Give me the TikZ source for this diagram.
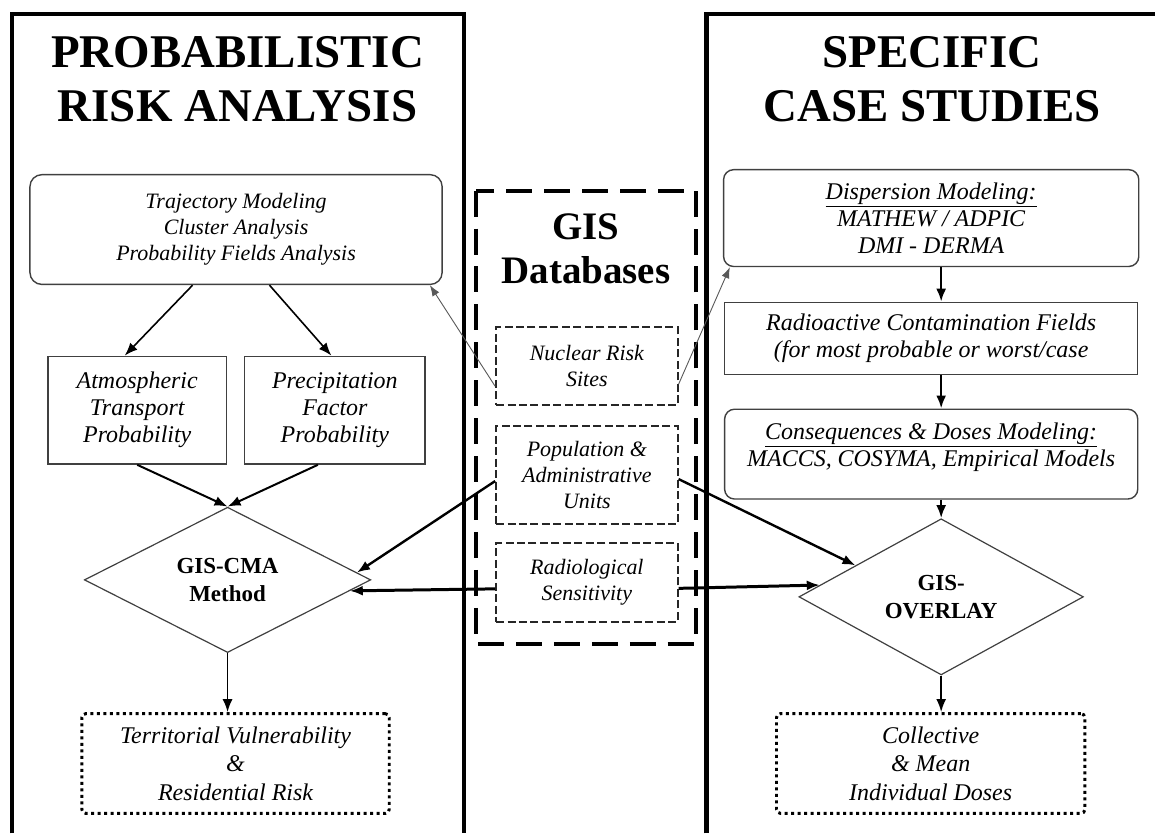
\documentclass[tikz,border=0pt]{standalone}
\usepackage{fontspec}
\setmainfont{Liberation Serif}
\usetikzlibrary{shapes.geometric,arrows.meta,calc}

\tikzset{
  frame/.style={line width=4.5pt},
  heading/.style={font=\fontsize{47}{54}\selectfont\bfseries, align=center},
  box/.style={draw=black!75, line width=1.4pt, align=center, inner sep=0pt,
    font=\fontsize{24}{27}\selectfont\itshape},
  rbox/.style={box, rounded corners=10pt},
  dbitem/.style={box, draw=black!85, line width=1.8pt, dash pattern=on 8pt off 3.5pt,
    font=\fontsize{22}{26}\selectfont\itshape, minimum width=182pt},
  result/.style={box, draw=black, line width=3pt, dash pattern=on 3pt off 3.5pt,
    rounded corners=4pt, font=\fontsize{24}{28.5}\selectfont\itshape},
  decision/.style={diamond, draw=black!75, line width=1.2pt, inner sep=0pt,
    align=center, font=\fontsize{23}{28}\selectfont\bfseries},
  link/.style={-{Latex[length=13pt,width=10pt]}, line width=1.6pt},
  lightlink/.style={-{Latex[length=11pt,width=8pt]}, line width=0.9pt, draw=black!65},
}

\begin{document}
\begin{tikzpicture}[x=1pt,y=-1pt]
  \path[fill=white] (0,0) rectangle (1157,835);

  % panels and headings
  \draw[frame] (12,835) -- (12,14) -- (465,14) -- (465,835);
  \draw[frame] (708,835) -- (708,14) -- (1157,14);
  \node[heading] (prahead) at (238,79) {PROBABILISTIC\\RISK ANALYSIS};
  \node[heading] (cshead) at (934,79) {SPECIFIC\\CASE STUDIES};

  % probabilistic side
  \node[rbox, rounded corners=12pt, minimum width=413pt, minimum height=110pt,
    font=\fontsize{22}{26}\selectfont\itshape] (traj) at (236.5,230)
    {Trajectory Modeling\\Cluster Analysis\\Probability Fields Analysis};
  \node[box, minimum width=179pt, minimum height=108pt] (atm) at (137.5,411)
    {Atmospheric\\Transport\\Probability};
  \node[box, minimum width=181pt, minimum height=108pt] (prec) at (335.5,411)
    {Precipitation\\Factor\\Probability};
  \node[decision, minimum width=287pt, minimum height=126pt] (cma) at (228,581)
    {GIS-CMA\\Method};
  \node[result, minimum width=308pt, minimum height=100pt] (terr) at (236,765)
    {Territorial Vulnerability\\\&\\Residential Risk};

  % databases in the middle
  \draw[line width=4pt, dash pattern=on 26pt off 12pt] (477,191) rectangle (697,645);
  \node[font=\fontsize{39}{44}\selectfont\bfseries, align=center] (gistitle)
    at (587,249) {GIS\\Databases};
  \node[dbitem, minimum height=78pt] (nuc) at (588,367) {Nuclear Risk\\Sites};
  \node[dbitem, minimum height=98pt] (pop) at (588,476)
    {Population \&\\Administrative\\Units};
  \node[dbitem, minimum height=79pt] (radio) at (588,583.5)
    {Radiological\\Sensitivity};

  % case study side
  \node[rbox, minimum width=416pt, minimum height=97pt] (disp) at (933,218.5)
    {\underline{Dispersion Modeling:}\\MATHEW / ADPIC\\DMI - DERMA};
  \node[box, minimum width=414pt, minimum height=72pt] (rad) at (933,339)
    {Radioactive Contamination Fields\\(for most probable or worst/case};
  \node[rbox, minimum width=414pt, minimum height=90pt] (cons) at (933,455) {};
  \node[font=\fontsize{24}{27}\selectfont\itshape, align=center, inner sep=0pt]
    (constext) at ([yshift=6.5pt]cons.center)
    {\underline{Consequences \& Doses Modeling:}\\MACCS, COSYMA, Empirical Models};
  \node[decision, minimum width=285pt, minimum height=122pt] (ovl) at (943,598)
    {GIS-\\OVERLAY};
  \node[result, minimum width=309pt, minimum height=100pt] (doses) at (932.5,765)
    {Collective\\\& Mean\\Individual Doses};

  % flow on the left
  \draw[link] ([xshift=-43.5pt]traj.south) -- ([xshift=-12.5pt]atm.north);
  \draw[link] ([xshift=33.5pt]traj.south) -- ([xshift=-3.5pt]prec.north);
  \draw[link, line width=2pt] (atm.south) -- (cma.north);
  \draw[link, line width=2pt] ([xshift=-17pt]prec.south) -- (cma.north);
  \draw[link] (cma.south) -- (cma.south |- terr.north);

  % database links
  \draw[lightlink] ([yshift=-20pt]nuc.west) -- ([xshift=-13pt]traj.south east);
  \draw[lightlink] ([yshift=-18pt]nuc.east) -- ([xshift=7pt]disp.south west);
  \draw[link, line width=2.4pt] ([yshift=-6pt]pop.west) -- ($(cma.east)!0.1!(cma.north)$);
  \draw[link, line width=2.4pt] ([yshift=-4pt]pop.east) -- ($(ovl.west)!0.4!(ovl.north)$);
  \draw[link, line width=3pt] ([yshift=-6.5pt]radio.west) -- ($(cma.east)!0.15!(cma.south)$);
  \draw[link, line width=3pt] ([yshift=-6pt]radio.east) -- ($(ovl.west)!0.15!(ovl.north)$);

  % flow on the right
  \draw[link, line width=2.4pt] (disp.south -| ovl.north) -- (rad.north -| ovl.north);
  \draw[link, line width=2.4pt] (rad.south -| ovl.north) -- (cons.north -| ovl.north);
  \draw[link, line width=2.4pt] (cons.south -| ovl.north) -- (ovl.north);
  \draw[link, line width=2pt] (ovl.south) -- (ovl.south |- doses.north);
\end{tikzpicture}
\end{document}
